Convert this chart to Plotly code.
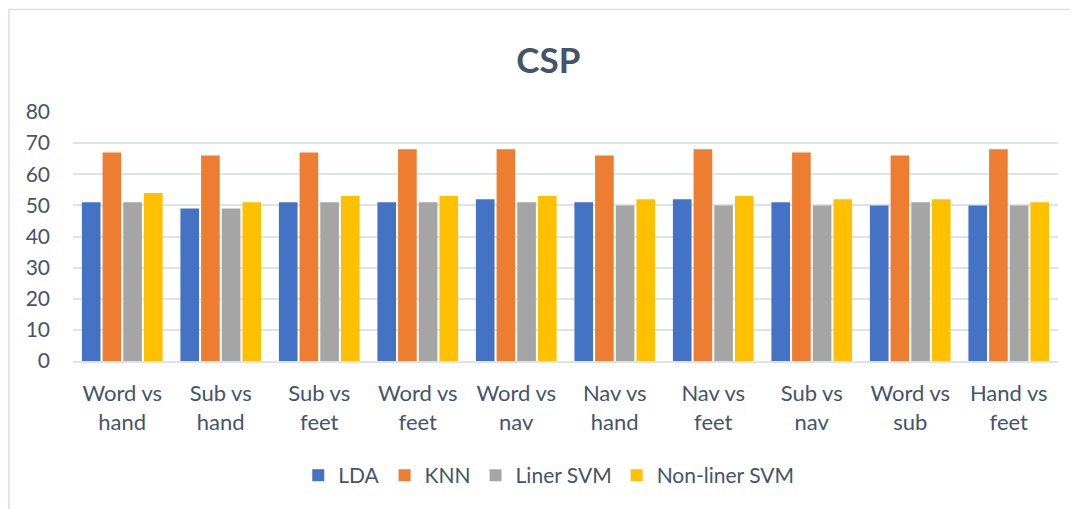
import plotly.graph_objects as go

categories = ["Word vs<br>hand", "Sub vs<br>hand", "Sub vs<br>feet", "Word vs<br>feet", "Word vs<br>nav",
              "Nav vs<br>hand", "Nav vs<br>feet", "Sub vs<br>nav", "Word vs<br>sub", "Hand vs<br>feet"]
lda = [51, 49, 51, 51, 52, 51, 52, 51, 50, 50]
knn = [67, 66, 67, 68, 68, 66, 68, 67, 66, 68]
liner_svm = [51, 49, 51, 51, 51, 50, 50, 50, 51, 50]
nonliner_svm = [54, 51, 53, 53, 53, 52, 53, 52, 52, 51]

series = [("LDA", lda, "#4472C4"), ("KNN", knn, "#ED7D31"),
          ("Liner SVM", liner_svm, "#A5A5A5"), ("Non-liner SVM", nonliner_svm, "#FFC000")]

FONT = "Lato"
TXT = "#44546A"

fig = go.Figure()
for name, vals, col in series:
    fig.add_trace(go.Bar(name=name, x=categories, y=vals, marker_color=col,
                         marker_line_width=0))

fig.update_layout(
    width=1070, height=501,
    margin=dict(l=65, r=20, t=104, b=148),
    paper_bgcolor="white", plot_bgcolor="white",
    barmode="group", bargap=0.16, bargroupgap=0.1,
    font=dict(family=FONT, color=TXT, size=20),
    title=dict(text="<b>CSP</b>", x=0.505, xanchor="center", y=0.895, yanchor="middle",
               font=dict(family=FONT, size=35, color=TXT)),
    yaxis=dict(range=[0, 80], dtick=10, showgrid=True, gridcolor="#DEE3EA", gridwidth=2,
               zeroline=False, ticks="", ticklabelstandoff=22,
               tickfont=dict(size=21, color=TXT)),
    xaxis=dict(showline=True, linecolor="#DEE3EA", linewidth=2, ticks="",
               ticklabelstandoff=12,
               tickfont=dict(size=22, color=TXT)),
    legend=dict(orientation="h", x=0.483, xanchor="center", y=-0.46, yanchor="middle",
                font=dict(size=21, color=TXT), traceorder="normal", itemwidth=30),
    showlegend=True,
    shapes=[
        dict(type="line", xref="paper", yref="paper", x0=-0.065, x1=1.05, y0=1.412, y1=1.412,
             line=dict(color="#D9DEE5", width=1.5)),
        dict(type="line", xref="paper", yref="paper", x0=-0.065, x1=-0.065, y0=1.412, y1=-0.7,
             line=dict(color="#D9DEE5", width=1.5)),
    ],
)

fig.write_html("out.html")
